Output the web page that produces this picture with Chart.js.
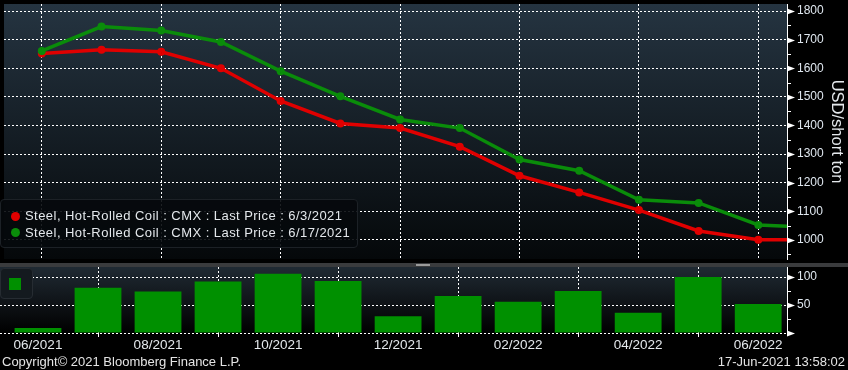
<!DOCTYPE html>
<html>
<head>
<meta charset="utf-8">
<script src="https://cdn.jsdelivr.net/npm/chart.js@4.4.1/dist/chart.umd.min.js"></script>
<style>
  body { margin: 0; background: #000; width: 848px; height: 370px; overflow: hidden; position: relative;
         font-family: "Liberation Sans", Arial, sans-serif; color: #e4e8ec; }
  #top { position: absolute; left: 0; top: 0; }
  #bot { position: absolute; left: 0; top: 267px; }
  #sep { position: absolute; left: 0; top: 263px; width: 848px; height: 4px; background: #3a3b3d; }
  #grip { position: absolute; left: 416px; top: 264px; width: 14px; height: 0;
          border-top: 1px solid #9a9a9a; border-bottom: 1px solid #9a9a9a; }
  #legend { position: absolute; left: 0; top: 199px; width: 358px; height: 49px; box-sizing: border-box;
            background: rgba(6, 9, 12, 0.9); border: 1px solid #1c2126; border-radius: 4px;
            font-size: 13px; letter-spacing: 0.45px; line-height: 16.5px; padding-top: 8px; }
  #legend div { position: relative; padding-left: 24px; white-space: nowrap; }
  #legend span { position: absolute; left: 10px; top: 3.5px; width: 9px; height: 9px; border-radius: 50%; }
  #legend2 { position: absolute; left: 0; top: 268px; width: 33px; height: 31px; box-sizing: border-box;
             background: #141a1f; border: 1px solid #262c32; border-radius: 4px; }
  #legend2 span { position: absolute; left: 8px; top: 9px; width: 12px; height: 12px; background: #009000; }
  .foot { position: absolute; top: 353px; font-size: 13px; line-height: 17px; color: #e4e4e4; white-space: nowrap; }
</style>
</head>
<body>
<canvas id="top" width="848" height="263"></canvas>
<div id="sep"></div><div id="grip"></div>
<canvas id="bot" width="848" height="87"></canvas>
<div id="legend">
  <div><span style="background:#e00000"></span>Steel, Hot-Rolled Coil : CMX : Last Price : 6/3/2021</div>
  <div><span style="background:#0a8c0a"></span>Steel, Hot-Rolled Coil : CMX : Last Price : 6/17/2021</div>
</div>
<div id="legend2"><span></span></div>
<div class="foot" style="left:2px">Copyright© 2021 Bloomberg Finance L.P.</div>
<div class="foot" style="right:3px">17-Jun-2021 13:58:02</div>
<script>
// monthly contract months on the futures curve
const months = ['06/2021','07/2021','08/2021','09/2021','10/2021','11/2021','12/2021',
                '01/2022','02/2022','03/2022','04/2022','05/2022','06/2022','07/2022'];
const tickLabels = ['06/2021','08/2021','10/2021','12/2021','02/2022','04/2022','06/2022'];
// curve on 6/3/2021 and 6/17/2021 (USD/short ton)
const priceJun3  = [1652,1665,1658,1600,1486,1407,1391,1326,1224,1166,1104,1031,1000,1000];
const priceJun17 = [1661,1746,1732,1692,1590,1502,1421,1391,1281,1242,1140,1129,1052,1042];
// change between the two curves
const change = [9,81,74,92,106,93,30,66,56,75,36,100,52];
const priceTicks = [950,1000,1050,1100,1150,1200,1250,1300,1350,1400,1450,1500,1550,1600,1650,1700,1750,1800];
const changeTicks = [0,25,50,75,100];

const xMin = -0.633, xMax = 12.48;
const tickIdx = tickLabels.map(l => months.indexOf(l));
const pts = arr => arr.map((v, i) => ({x: i, y: v}));
const dash = [2, 2];
const fam = '"Liberation Sans", Arial, sans-serif';

function bgPlugin(c0, c1) {
  return {
    id: 'bg',
    beforeDraw(chart) {
      const a = chart.chartArea, ctx = chart.ctx;
      const g = ctx.createLinearGradient(0, a.top, 0, a.bottom);
      g.addColorStop(0, c0); g.addColorStop(1, c1);
      ctx.save(); ctx.fillStyle = g; ctx.fillRect(a.left, a.top, a.right - a.left, a.bottom - a.top); ctx.restore();
    }
  };
}

// arrow-shaped major ticks and short minor ticks on the right axis
function tickMarks(step) {
  return {
    id: 'tickMarks',
    afterDraw(chart) {
      const y = chart.scales.y, ctx = chart.ctx, x0 = chart.chartArea.right;
      ctx.save(); ctx.fillStyle = '#fff'; ctx.strokeStyle = '#fff'; ctx.lineWidth = 1;
      y.ticks.forEach(t => {
        const py = Math.round(y.getPixelForValue(t.value)) + 0.5;
        if (t.value % step === 0) {
          ctx.beginPath(); ctx.moveTo(x0, py - 3); ctx.lineTo(x0 + 8, py); ctx.lineTo(x0, py + 3); ctx.closePath(); ctx.fill();
        } else {
          ctx.beginPath(); ctx.moveTo(x0, py); ctx.lineTo(x0 + 4, py); ctx.stroke();
        }
      });
      ctx.restore();
    }
  };
}

const noPad = s => { s.paddingTop = 0; s.paddingBottom = 0; s.paddingLeft = 0; s.paddingRight = 0; };

const xScale = (showLabels) => ({
  type: 'linear', min: xMin, max: xMax, position: 'bottom', offset: false,
  afterBuildTicks: s => { s.ticks = tickIdx.map(v => ({value: v})); },
  afterFit: s => { s.height = showLabels ? 21 : 0; noPad(s); },
  border: {display: false, dash: dash},
  grid: {color: '#fff', drawTicks: showLabels, tickLength: 4, tickColor: '#fff', tickBorderDash: []},
  ticks: {display: showLabels, autoSkip: false, color: '#e4e8ec', font: {family: fam, size: 13.5}, padding: 0,
          maxRotation: 0, callback: v => months[v]}
});

const yScale = (min, max, ticks, step, withTitle) => ({
  position: 'right', min: min, max: max,
  afterBuildTicks: s => { s.ticks = ticks.map(v => ({value: v})); },
  afterFit: s => { s.width = 61; noPad(s); },
  border: {color: '#fff', width: 1, dash: dash},
  grid: {color: c => (c.tick && c.tick.value % step === 0) ? '#fff' : 'rgba(0,0,0,0)', drawTicks: false},
  ticks: {autoSkip: false, color: '#dfe7ef', font: {family: fam, size: 12}, padding: 10,
          callback: v => (v % step === 0 && v > 0) ? String(v) : ''},
  title: {display: withTitle, text: 'USD/short ton', color: '#e4e8ec',
          font: {family: fam, size: 16.5}, padding: {top: 2, bottom: 0}}
});

new Chart(document.getElementById('top'), {
  type: 'line',
  data: {
    datasets: [
      {label: 'Steel, Hot-Rolled Coil : CMX : Last Price : 6/17/2021', data: pts(priceJun17), order: 0,
       borderColor: '#0a8c0a', backgroundColor: '#0a8c0a', borderWidth: 3.5, pointRadius: 4, pointBorderWidth: 0, clip: 0},
      {label: 'Steel, Hot-Rolled Coil : CMX : Last Price : 6/3/2021', data: pts(priceJun3), order: 1,
       borderColor: '#e00000', backgroundColor: '#e00000', borderWidth: 3.5, pointRadius: 4, pointBorderWidth: 0, clip: 0}
    ]
  },
  options: {
    responsive: false, animation: false, events: [],
    layout: {padding: 0},
    plugins: {legend: {display: false}, tooltip: {enabled: false}},
    scales: {x: xScale(false), y: yScale(933, 1825, priceTicks, 100, true)}
  },
  plugins: [bgPlugin('#253441', '#05080a'), tickMarks(100)]
});

new Chart(document.getElementById('bot'), {
  type: 'bar',
  data: {
    datasets: [
      {label: 'Change', data: pts(change), backgroundColor: '#009000', borderWidth: 0,
       barPercentage: 0.78, categoryPercentage: 1}
    ]
  },
  options: {
    responsive: false, animation: false, events: [],
    layout: {padding: 0},
    plugins: {legend: {display: false}, tooltip: {enabled: false}},
    scales: {x: xScale(true), y: yScale(0, 118, changeTicks, 50, false)}
  },
  plugins: [bgPlugin('#202a33', '#000000'), tickMarks(50)]
});
</script>
</body>
</html>
